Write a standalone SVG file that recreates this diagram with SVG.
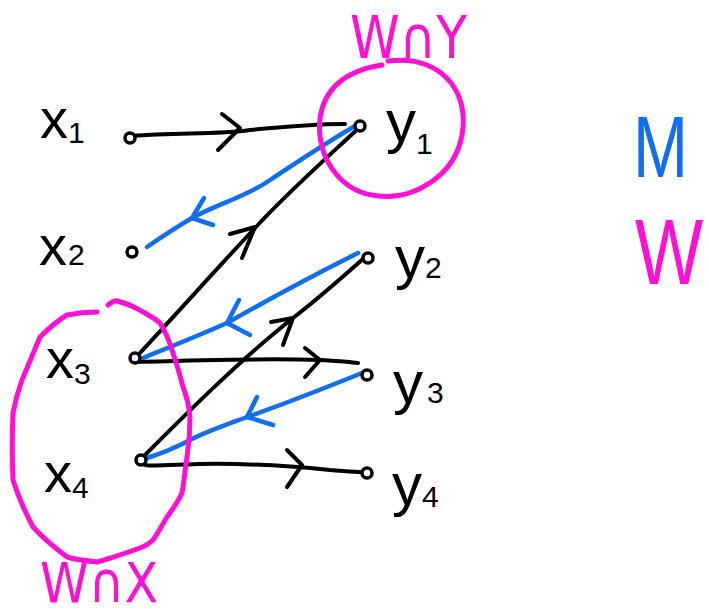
<svg xmlns="http://www.w3.org/2000/svg" width="709" height="616" viewBox="0 0 709 616">
<style>
.bk{fill:none;stroke:#000;stroke-width:4;stroke-linecap:round;stroke-linejoin:round}
.bl{fill:none;stroke:#0f6ff0;stroke-width:4.5;stroke-linecap:round;stroke-linejoin:round}
.pk{fill:none;stroke:#ff10d2;stroke-width:5;stroke-linecap:round;stroke-linejoin:round}
.dot{fill:#fff;stroke:#000;stroke-width:3.5}
.lb{font-family:"Liberation Sans",Arial,sans-serif;fill:#000}
.sub{font-family:"Liberation Sans",Arial,sans-serif;fill:#000;font-size:30px}
.pt{font-family:"DejaVu Sans","Liberation Sans",sans-serif;fill:#ff10d2}
</style>
<rect width="709" height="616" fill="#fff"/>
<g id="connectors">
  <g id="e-x1-y1"><path class="bk" d="M130,136 C180,132 215,135 250,130 C290,126 320,124 345,124"/><path class="bk" d="M222,114 L240,128 L218,150"/></g>
  <g id="e-x3-y1"><path class="bk" d="M138,355 C180,310 220,265 255,228 C290,190 330,155 362,125"/><path class="bk" d="M230,234 L255,227 L242,258"/></g>
  <g id="e-x3-y3"><path class="bk" d="M135,362 C200,360 260,358 320,360 C335,361 345,361 358,363"/><path class="bk" d="M305,348 L320,360 L305,377"/></g>
  <g id="e-x4-y2"><path class="bk" d="M145,455 C190,410 240,360 293,318 C320,297 345,275 364,258"/><path class="bk" d="M271,322 L293,318 L283,345"/></g>
  <g id="e-x4-y4"><path class="bk" d="M140,462 C145,468 155,465 200,464 C250,463 290,466 330,470 C345,471 355,472 362,472"/><path class="bk" d="M287,450 L302,465 L287,487"/></g>
  <g id="e-y1-x2"><path class="bl" d="M362,122 C330,140 300,160 267,182 C245,197 215,205 192,218 C175,228 160,238 147,247"/><path class="bl" d="M204,198 L192,218 L213,225"/></g>
  <g id="e-y2-x3"><path class="bl" d="M358,253 C320,272 280,293 227,323 C200,335 170,347 143,358"/><path class="bl" d="M239,300 L227,323 L250,335"/></g>
  <g id="e-y3-x4"><path class="bl" d="M362,373 C320,390 290,402 247,417 C220,427 205,432 190,440 C175,448 160,454 147,458"/><path class="bl" d="M257,397 L247,417 L273,425"/></g>
</g>
<g id="set-WnY">
  <path class="pk" d="M388,61 C440,55 470,90 462,135 C455,175 415,200 378,196 C338,192 316,155 320,118 C325,85 350,70 382,65"/>
  <text class="pt" x="350" y="58" font-size="58" textLength="117" lengthAdjust="spacingAndGlyphs">W∩Y</text>
</g>
<g id="set-WnX">
  <path class="pk" d="M108,305 C112,302 115,300 117,301 C125,303 135,307 143,312 C150,316 156,319 160,323 C166,333 169,340 172,350 C176,362 180,375 183,387 C187,397 189,407 190,417 C190,430 189,444 187,457 C185,470 184,482 182,493 C178,502 172,510 167,517 C162,525 158,533 153,540 C149,544 145,546 140,548 C126,553 112,558 97,562 C87,561 77,560 67,557 C55,548 43,538 33,527 C25,512 18,496 13,480 C12,458 12,435 13,413 C15,402 18,391 22,380 C28,366 34,351 40,337 C48,329 57,321 67,315 C77,313 87,312 97,312"/>
  <text class="pt" x="40" y="602" font-size="56" textLength="118" lengthAdjust="spacingAndGlyphs">W∩X</text>
</g>
<g id="node-x1"><circle class="dot" cx="130" cy="138" r="5"/><text class="lb" x="40" y="138" font-size="56">x<tspan class="sub" dy="5">1</tspan></text></g>
<g id="node-x2"><circle class="dot" cx="132" cy="252" r="5"/><text class="lb" x="39" y="265" font-size="56">x<tspan class="sub" dx="1" dy="0">2</tspan></text></g>
<g id="node-x3"><circle class="dot" cx="135" cy="358" r="5"/><text class="lb" x="46" y="378" font-size="56">x<tspan class="sub" dy="6">3</tspan></text></g>
<g id="node-x4"><circle class="dot" cx="141" cy="460" r="5"/><text class="lb" x="44" y="492" font-size="56">x<tspan class="sub" dy="6">4</tspan></text></g>
<g id="node-y1"><circle class="dot" cx="360" cy="126" r="5"/><text class="lb" x="386" y="142" font-size="60">y<tspan class="sub" dy="12">1</tspan></text></g>
<g id="node-y2"><circle class="dot" cx="368" cy="258" r="5"/><text class="lb" x="395" y="278" font-size="60">y<tspan class="sub" dy="0">2</tspan></text></g>
<g id="node-y3"><circle class="dot" cx="367" cy="375" r="5"/><text class="lb" x="393" y="403" font-size="60">y<tspan class="sub" dx="4" dy="0">3</tspan></text></g>
<g id="node-y4"><circle class="dot" cx="367" cy="473" r="5"/><text class="lb" x="392" y="505" font-size="60">y<tspan class="sub" dy="2">4</tspan></text></g>
<g id="legend">
  <text x="633" y="177" font-family="Liberation Sans, Arial, sans-serif" font-size="88" fill="#0f6ff0" textLength="55" lengthAdjust="spacingAndGlyphs">M</text>
  <text transform="translate(635,284) scale(0.95,1.22)" x="0" y="0" font-family="Liberation Sans, Arial, sans-serif" font-size="76" fill="#ff10d2">W</text>
</g>
</svg>
